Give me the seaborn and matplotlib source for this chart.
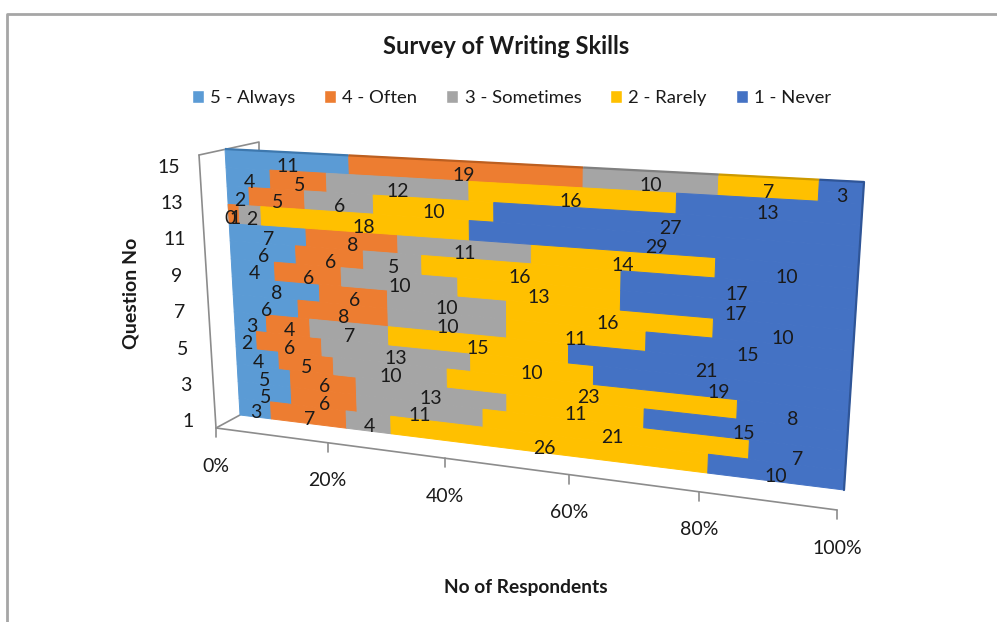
import numpy as np
import pandas as pd
import seaborn as sns
import matplotlib
matplotlib.use("Agg")
import matplotlib.pyplot as plt
from matplotlib.transforms import Transform, Affine2D
from matplotlib.patches import Patch

# ---------- data ----------
questions = list(range(1, 16))
always    = [3, 5, 5, 4, 2, 3, 6, 8, 4, 6, 7, 0, 2, 4, 11]
often     = [7, 6, 6, 5, 6, 4, 8, 6, 6, 6, 8, 1, 5, 5, 19]
sometimes = [4, 11, 13, 10, 13, 7, 10, 10, 10, 5, 11, 2, 6, 12, 10]
rarely    = [26, 21, 11, 23, 10, 15, 11, 16, 13, 16, 14, 18, 10, 16, 7]
never     = [10, 7, 15, 8, 19, 21, 15, 10, 17, 17, 10, 29, 27, 13, 3]
series_names = ["5 - Always", "4 - Often", "3 - Sometimes", "2 - Rarely", "1 - Never"]
series_colors = ["#5B9BD5", "#ED7D31", "#A5A5A5", "#FFC000", "#4472C4"]
series_dark = ["#3E78AE", "#BC5F20", "#808080", "#CC9900", "#2F5597"]
x_ticks = [0, 20, 40, 60, 80, 100]
y_ticks = [1, 3, 5, 7, 9, 11, 13, 15]

sns.set_theme(style="white")
plt.rcParams["font.family"] = ["Lato", "DejaVu Sans"]
TXT = "#1a1a1a"
FS = 14


def homography(src, dst):
    A, b = [], []
    for (x, y), (u, v) in zip(src, dst):
        A.append([x, y, 1, 0, 0, 0, -u * x, -u * y]); b.append(u)
        A.append([0, 0, 0, x, y, 1, -v * x, -v * y]); b.append(v)
    return np.append(np.linalg.solve(np.array(A, float), np.array(b, float)), 1).reshape(3, 3)


class Projective(Transform):
    input_dims = output_dims = 2
    is_affine = False

    def __init__(self, m):
        super().__init__()
        self.m = m

    def transform_non_affine(self, xy):
        xy = np.asarray(xy, float)
        p = np.c_[xy, np.ones(len(xy))] @ self.m.T
        return p[:, :2] / p[:, 2:]


fig = plt.figure(figsize=(9.97, 6.22), dpi=100, facecolor="white")
ax = fig.add_axes([0, 0, 1, 1])

# data plane (percent, question) -> picture plane
plane = Projective(homography([(0, .5), (100, .5), (100, 15.5), (0, 15.5)],
                              [(240, 415), (844, 490), (864, 182), (225, 149)]))
floor = Projective(homography([(0, 0), (100, 0), (100, 1), (0, 1)],
                              [(216, 428), (837, 510), (837, 410), (216, 340.4)]))
T = plane + ax.transData
T_label = T + Affine2D().translate(1, -4.5)

df = pd.DataFrame(np.array([always, often, sometimes, rarely, never]).T, columns=series_names)
df.insert(0, "q", questions)
totals = df[series_names].sum(axis=1).to_numpy()
left = np.zeros(len(df))
for name, col, dark in zip(series_names, series_colors, series_dark):
    share = df[name].to_numpy() / totals * 100
    sns.barplot(x=share, y=df["q"], orient="y", native_scale=True, errorbar=None, width=1.0,
                color=col, saturation=1, linewidth=0.7, edgecolor=col, left=left, transform=T,
                ax=ax, zorder=3)
    # thin dark top face of the block
    ax.plot([left[-1], left[-1] + share[-1]], [15.5, 15.5], color=dark, lw=1.6, transform=T,
            zorder=4, solid_capstyle="butt")
    for q, l, s, v in zip(df["q"], left, share, df[name]):
        ax.text(l + s / 2, q, str(v), transform=T_label, ha="center", va="center", fontsize=FS,
                color=TXT, zorder=6)
    left = left + share
ax.plot([100, 100], [.5, 15.5], color=series_dark[-1], lw=1.6, transform=T, zorder=4)

# walls and axes
WALL = "#8c8c8c"
ax.plot([199, 216, 837], [155, 428, 510], color=WALL, lw=1.2, zorder=1)
ax.plot([199, 259, 259], [155, 142, 152], color=WALL, lw=1.2, zorder=1)
ax.plot([216, 240], [428, 415], color=WALL, lw=1.2, zorder=1)
for t in x_ticks:
    px, py = floor.transform_non_affine([[t, 0]])[0]
    ax.plot([px, px], [py, py + 9], color=WALL, lw=1.2, zorder=1)
    ax.text(px, py + 38, f"{t}%", ha="center", va="center", fontsize=FS, color=TXT)
for q in y_ticks:
    f = (q - .5) / 15
    ax.text(189 - 21 * f, 428 - 273 * f + 3, str(q), ha="center", va="center", fontsize=FS, color=TXT)

# titles
ax.text(506, 46, "Survey of Writing Skills", ha="center", va="center", fontsize=17, fontweight="bold", color=TXT)
ax.text(526, 587, "No of Respondents", ha="center", va="center", fontsize=13.8, fontweight="bold", color=TXT)
ax.text(131, 293, "Question No", ha="center", va="center", rotation=90, fontsize=14, fontweight="bold", color=TXT)

# legend
handles = [Patch(facecolor=c, label=n) for c, n in zip(series_colors, series_names)]
leg = ax.legend(handles=handles, ncol=5, frameon=False, loc="center", bbox_to_anchor=(511.5 / 997, 1 - 98 / 622),
                fontsize=13.3, columnspacing=1.57, handlelength=.65, handleheight=.65, handletextpad=.33,
                labelcolor=TXT)

# outer frame
ax.plot([7, 7, 997], [622, 14, 14], color="#a6a6a6", lw=2, zorder=0)

ax.set_xlim(0, 997)
ax.set_ylim(622, 0)
ax.set_xlabel(""); ax.set_ylabel("")
ax.axis("off")
fig.savefig("out.png", dpi=100)
